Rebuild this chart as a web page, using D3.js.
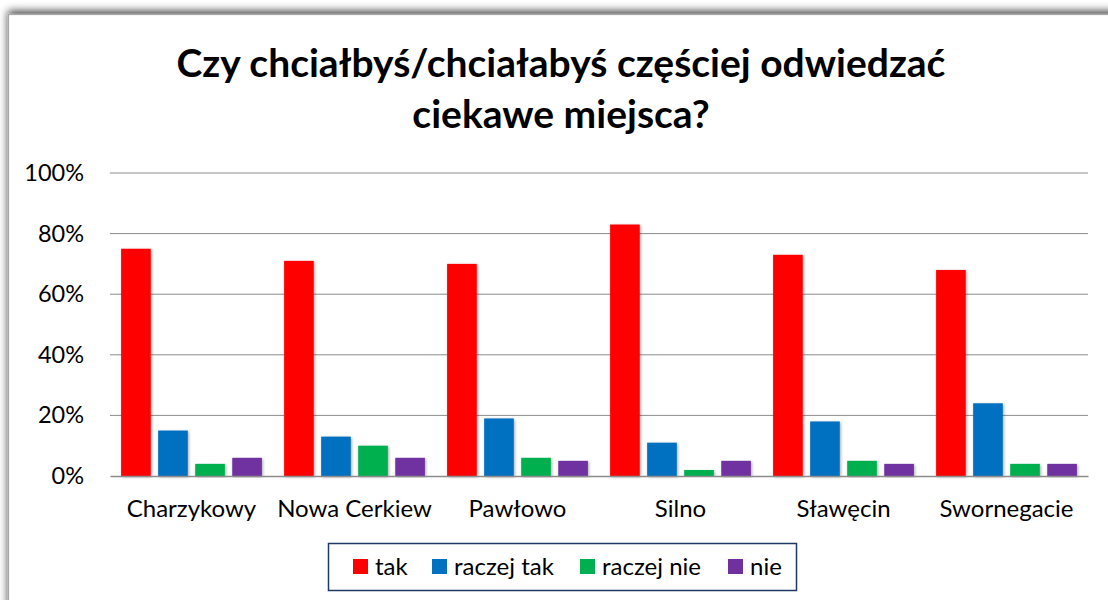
<!DOCTYPE html>
<html>
<head>
<meta charset="utf-8">
<script src="https://cdn.jsdelivr.net/npm/d3@7"></script>
<style>
  body { margin: 0; background: #fff; }
  text { font-family: Lato, "Open Sans", sans-serif; fill: #000; }
</style>
</head>
<body>
<div id="chart"></div>
<script>
// data (percent)
const categories = ["Charzykowy", "Nowa Cerkiew", "Pawłowo", "Silno", "Sławęcin", "Swornegacie"];
const seriesNames = ["tak", "raczej tak", "raczej nie", "nie"];
const tak = [75, 71, 70, 83, 73, 68];
const raczejTak = [15, 13, 19, 11, 18, 24];
const raczejNie = [4, 10, 6, 2, 5, 4];
const nie = [6, 6, 5, 5, 4, 4];
const yTicks = [0, 20, 40, 60, 80, 100];
const titleLines = ["Czy chciałbyś/chciałabyś częściej odwiedzać", "ciekawe miejsca?"];

const seriesValues = [tak, raczejTak, raczejNie, nie];
const colors = ["#FF0000", "#0070C0", "#00B050", "#7030A0"];

const svgWidth = 1108, svgHeight = 600;
const margin = { top: 173, right: 20, bottom: 124, left: 110 };
const width = 1088 - margin.left;
const height = 476 - margin.top;

const svg = d3.select("#chart").append("svg")
    .attr("width", svgWidth)
    .attr("height", svgHeight);

const defs = svg.append("defs");
const outer = defs.append("filter").attr("id", "outerShadow")
    .attr("x", "-5%").attr("y", "-5%").attr("width", "110%").attr("height", "110%");
outer.append("feGaussianBlur").attr("in", "SourceAlpha").attr("stdDeviation", 4);
outer.append("feOffset").attr("dx", 0).attr("dy", -3).attr("result", "b");
outer.append("feComponentTransfer").append("feFuncA").attr("type", "linear").attr("slope", 0.75);
const m1 = outer.append("feMerge");
m1.append("feMergeNode");
m1.append("feMergeNode").attr("in", "SourceGraphic");

const barShadow = defs.append("filter").attr("id", "barShadow")
    .attr("x", "-30%").attr("y", "-10%").attr("width", "160%").attr("height", "120%");
barShadow.append("feGaussianBlur").attr("in", "SourceAlpha").attr("stdDeviation", 1.5);
barShadow.append("feOffset").attr("dx", 1).attr("dy", 1);
barShadow.append("feComponentTransfer").append("feFuncA").attr("type", "linear").attr("slope", 0.35);
const m2 = barShadow.append("feMerge");
m2.append("feMergeNode");
m2.append("feMergeNode").attr("in", "SourceGraphic");

// chart area frame
svg.append("rect")
    .attr("x", 8.5).attr("y", 14.5)
    .attr("width", 1120).attr("height", 620)
    .attr("fill", "#fff")
    .attr("stroke", "#a6a6a6")
    .attr("stroke-width", 1.2)
    .attr("filter", "url(#outerShadow)");

// title
const title = svg.append("text")
    .attr("text-anchor", "middle")
    .style("font-weight", "bold")
    .style("font-size", "39px");
titleLines.forEach((t, i) => {
    title.append("tspan").attr("x", 561).attr("y", 77 + i * 51).text(t);
});

const g = svg.append("g").attr("transform", `translate(${margin.left},${margin.top})`);

const x0 = d3.scaleBand().domain(categories).range([0, width]).padding(0);
const x1 = d3.scaleBand().domain(seriesNames).range([0, x0.bandwidth()])
    .paddingInner(0.2).paddingOuter(0.3);
const y = d3.scaleLinear().domain([0, 100]).range([height, 0]);

// gridlines
g.append("g")
    .selectAll("line")
    .data(yTicks.filter(d => d > 0))
    .enter().append("line")
    .attr("x1", 0).attr("x2", width)
    .attr("y1", d => y(d)).attr("y2", d => y(d))
    .attr("stroke", "#8c8c8c")
    .attr("stroke-width", 1);

// y axis labels
const yAxis = g.append("g")
    .call(d3.axisLeft(y).tickValues(yTicks).tickSize(0).tickPadding(26).tickFormat(d => d + "%"));
yAxis.select(".domain").remove();
yAxis.selectAll("text").style("font-size", "23.5px").style("font-family", "Lato, sans-serif");

// bars
const groups = g.selectAll(".grp")
    .data(categories)
    .enter().append("g")
    .attr("class", "grp")
    .attr("transform", d => `translate(${x0(d)},0)`);

groups.selectAll("rect")
    .data((c, i) => seriesNames.map((s, k) => ({ s, v: seriesValues[k][i], k })))
    .enter().append("rect")
    .attr("x", d => x1(d.s))
    .attr("y", d => y(d.v))
    .attr("width", x1.bandwidth())
    .attr("height", d => height - y(d.v))
    .attr("fill", d => colors[d.k])
    .attr("filter", "url(#barShadow)");

// x axis
const xAxis = g.append("g")
    .attr("transform", `translate(0,${height})`)
    .call(d3.axisBottom(x0).tickSize(0).tickPadding(24));
xAxis.select(".domain").attr("stroke", "#8c8c8c").attr("stroke-width", 1.5);
xAxis.selectAll("text").style("font-size", "24px").style("font-family", "Lato, sans-serif");

// legend
const legend = svg.append("g");
legend.append("rect")
    .attr("x", 328.5).attr("y", 543.5)
    .attr("width", 468).attr("height", 47)
    .attr("fill", "#fff")
    .attr("stroke", "#1f3864")
    .attr("stroke-width", 1.5);

const legendX = [353, 432, 580, 728];
const items = legend.selectAll(".item")
    .data(seriesNames)
    .enter().append("g")
    .attr("class", "item")
    .attr("transform", (d, i) => `translate(${legendX[i]},559)`);
items.append("rect")
    .attr("width", 15).attr("height", 15)
    .attr("fill", (d, i) => colors[i]);
items.append("text")
    .attr("x", 22).attr("y", 16)
    .style("font-size", "24px")
    .text(d => d);
</script>
</body>
</html>
